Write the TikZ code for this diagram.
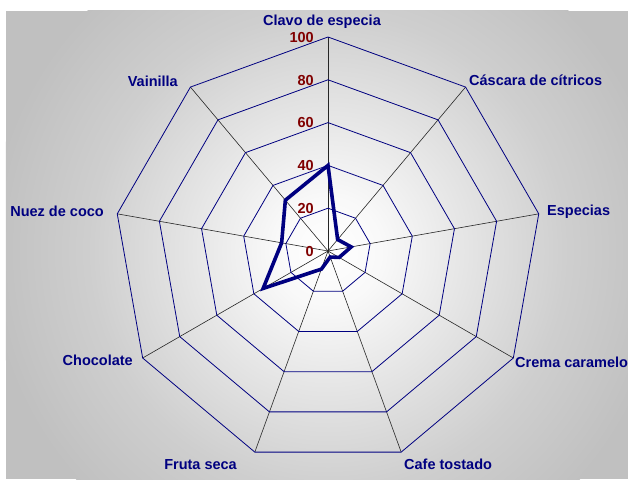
\documentclass[tikz,border=0pt]{standalone}
\usepackage{fontspec}
\setmainfont{Liberation Sans}
\usetikzlibrary{calc}

\definecolor{navy}{HTML}{000080}
\definecolor{maroon}{HTML}{800000}
\definecolor{bggray}{gray}{0.753}
\definecolor{bgone}{gray}{0.975}
\definecolor{bgtwo}{gray}{0.90}
\definecolor{bgthree}{gray}{0.81}
\pgfdeclareradialshading{chartbg}{\pgfpoint{0bp}{0bp}}{color(0bp)=(white); color(4bp)=(bgone); color(10bp)=(bgtwo); color(17.5bp)=(bgthree); color(25bp)=(bggray); color(50bp)=(bggray)}

\begin{document}
\begin{tikzpicture}[x=1pt,y=1pt]

        \useasboundingbox (-328,-228) rectangle (300,251);

        % fondo
        \fill[bggray] (-322,-228) rectangle (300,240);
        \begin{scope}
          \clip (-322,-228) rectangle (300,240);
          \shade[shading=chartbg] (0,0) circle (340);
        \end{scope}

        \coordinate (c)        at (0,0);
        \coordinate (clavo)    at (90:214);
        \coordinate (cascara)  at (50:214);
        \coordinate (especias) at (10:214);
        \coordinate (crema)    at (-30:214);
        \coordinate (cafe)     at (-70:214);
        \coordinate (fruta)    at (-110:214);
        \coordinate (choco)    at (-150:214);
        \coordinate (nuez)     at (170:214);
        \coordinate (vainilla) at (130:214);

        \begin{scope}[every path/.style={draw=black!85,line width=.6pt}]
          \path (c) -- (clavo);
          \path (c) -- (cascara);
          \path (c) -- (especias);
          \path (c) -- (crema);
          \path (c) -- (cafe);
          \path (c) -- (fruta);
          \path (c) -- (choco);
          \path (c) -- (nuez);
          \path (c) -- (vainilla);
        \end{scope}

        \foreach \v in {0.2,0.4,0.6,0.8,1}
          \draw[navy,line width=.8pt] ($(c)!\v!(clavo)$) -- ($(c)!\v!(cascara)$)
            -- ($(c)!\v!(especias)$) -- ($(c)!\v!(crema)$) -- ($(c)!\v!(cafe)$)
            -- ($(c)!\v!(fruta)$) -- ($(c)!\v!(choco)$) -- ($(c)!\v!(nuez)$)
            -- ($(c)!\v!(vainilla)$) -- cycle;

        % serie
        \coordinate (d1) at ($(c)!.40!(clavo)$);
        \coordinate (d2) at ($(c)!.07!(cascara)$);
        \coordinate (d3) at ($(c)!.11!(especias)$);
        \coordinate (d4) at ($(c)!.06!(crema)$);
        \coordinate (d5) at ($(c)!.03!(cafe)$);
        \coordinate (d6) at ($(c)!.09!(fruta)$);
        \coordinate (d7) at ($(c)!.35!(choco)$);
        \coordinate (d8) at ($(c)!.22!(nuez)$);
        \coordinate (d9) at ($(c)!.31!(vainilla)$);
        \draw[navy,line width=3.6pt] (d1) -- (d2) -- (d3) -- (d4) -- (d5)
          -- (d6) -- (d7) -- (d8) -- (d9) -- cycle;

        \begin{scope}[every node/.style={inner sep=0,text=maroon,anchor=east,
            font=\fontsize{14.5}{17}\bfseries,text height=10.5pt,text depth=0pt}]
          \node (t0)   at (-14,0)     {0};
          \node (t20)  at (-14,42.8)  {20};
          \node (t40)  at (-14,85.6)  {40};
          \node (t60)  at (-14,128.4) {60};
          \node (t80)  at (-14,171.2) {80};
          \node (t100) at (-14,214)   {100};
        \end{scope}

        \begin{scope}[every node/.style={inner sep=0,text=navy,
            font=\fontsize{14.5}{17}\bfseries,text height=10.5pt,text depth=3pt}]
          \node[anchor=center] (lclavo)    at (-6,229)    {Clavo de especia};
          \node[anchor=west]   (lcascara)  at (141,169)   {Cáscara de cítricos};
          \node[anchor=west]   (lespecias) at (219,39)    {Especias};
          \node[anchor=west]   (lcrema)    at (187,-113)  {Crema caramelo};
          \node[anchor=west]   (lcafe)     at (76,-215)   {Cafe tostado};
          \node[anchor=east]   (lfruta)    at (-91,-215)  {Fruta seca};
          \node[anchor=east]   (lchoco)    at (-195,-111) {Chocolate};
          \node[anchor=east]   (lnuez)     at (-224,38)   {Nuez de coco};
          \node[anchor=east]   (lvainilla) at (-150,168)  {Vainilla};
        \end{scope}

      \end{tikzpicture}
\end{document}
